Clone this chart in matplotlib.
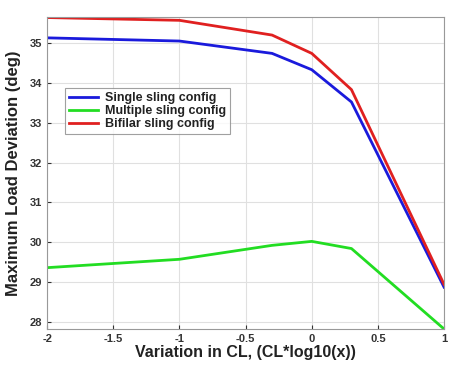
import matplotlib
matplotlib.use("Agg")
import matplotlib.pyplot as plt

x = [-2, -1, -0.3, 0, 0.3, 1]
single = [35.13, 35.05, 34.74, 34.33, 33.52, 28.87]
multiple = [29.36, 29.57, 29.92, 30.02, 29.84, 27.82]
bifilar = [35.64, 35.57, 35.2, 34.74, 33.83, 28.94]
xticks = [-2, -1.5, -1, -0.5, 0, 0.5, 1]
xticklabels = ["-2", "-1.5", "-1", "-0.5", "0", "0.5", "1"]
yticks = [28, 29, 30, 31, 32, 33, 34, 35]

plt.rcParams['font.family'] = ['Liberation Sans', 'DejaVu Sans']
fig = plt.figure(figsize=(4.49, 3.81), dpi=100)
ax = fig.add_axes([0.105, 0.1365, 0.884, 0.8185])
ax.plot(x, single, color='#1a1adc', lw=2, label='Single sling config')
ax.plot(x, multiple, color='#22dd22', lw=2, label='Multiple sling config')
ax.plot(x, bifilar, color='#e02020', lw=2, label='Bifilar sling config')
ax.set_xlim(-2, 1)
ax.set_ylim(27.82, 35.65)
ax.set_xticks(xticks)
ax.set_xticklabels(xticklabels)
ax.set_yticks(yticks)
ax.grid(True, color='#e0e0e0', lw=0.8)
ax.tick_params(direction='in', labelsize=8, colors='#333333', length=3)
for lab in ax.get_xticklabels() + ax.get_yticklabels():
    lab.set_fontweight('bold')
for s in ax.spines.values():
    s.set_color('#999999')
ax.set_xlabel('Variation in CL, (CL*log10(x))', fontsize=11.5, fontweight='bold', color='#222222', labelpad=1)
ax.set_ylabel('Maximum Load Deviation (deg)', fontsize=12, fontweight='bold', color='#222222', labelpad=6)
leg = ax.legend(loc='upper left', bbox_to_anchor=(0.045, 0.772), fontsize=9, frameon=True,
                fancybox=False, edgecolor='#888888', borderpad=0.3, labelspacing=0.1,
                handlelength=2.3, handletextpad=0.6, borderaxespad=0)
for t in leg.get_texts():
    t.set_fontweight('bold')
    t.set_color('#222222')
leg.get_frame().set_linewidth(0.8)
fig.savefig('out.png', dpi=100)
